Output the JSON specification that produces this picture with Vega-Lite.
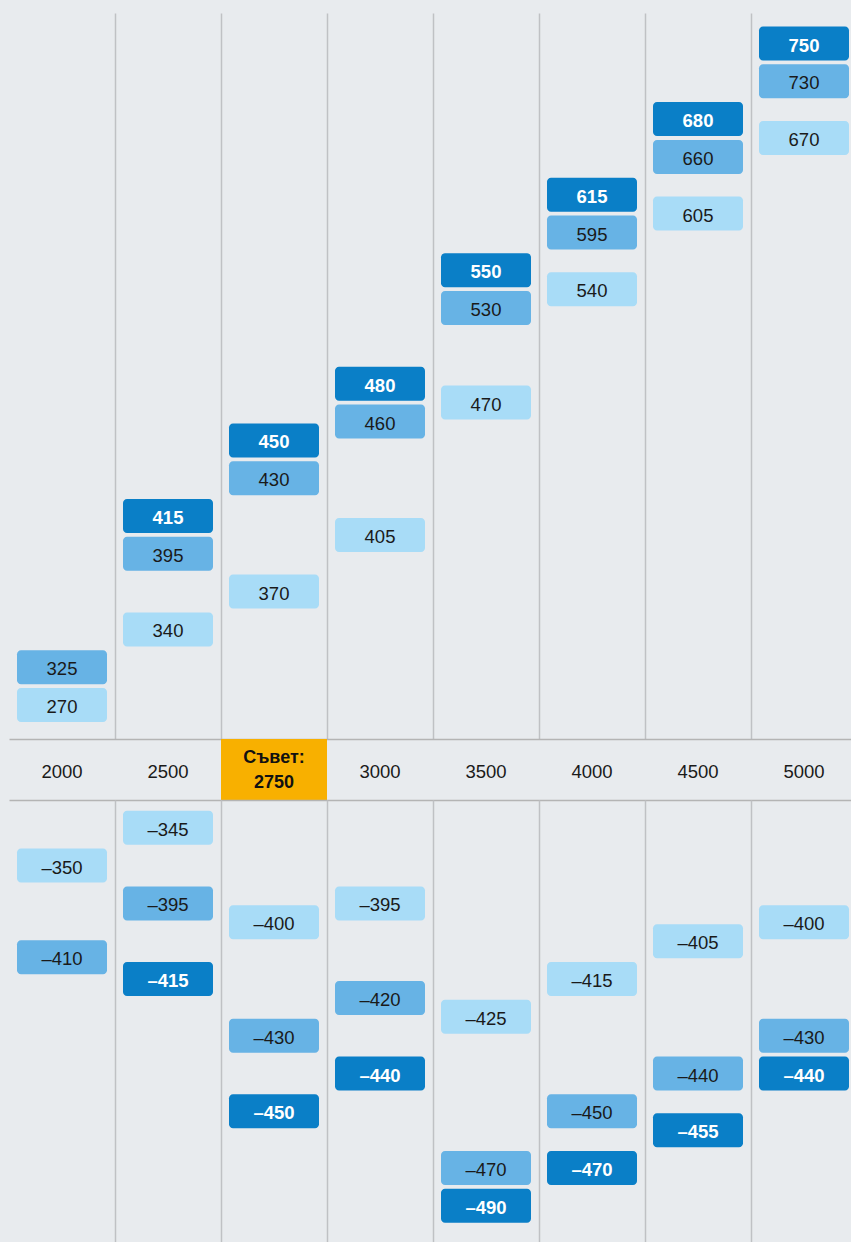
{
  "$schema": "https://vega.github.io/schema/vega-lite/v6.json",
  "background": "#e8ebee",
  "padding": {"top": 13, "left": 0, "right": 0, "bottom": 0},
  "bounds": "flush",
  "spacing": 0,
  "config": {
    "view": {"stroke": null},
    "font": "Liberation Sans",
    "locale": {"number": {"decimal": ".", "thousands": ",", "grouping": [3], "currency": ["$", ""], "minus": "–"}}
  },
  "datasets": {
    "boxes": [
      {"col": "2000", "series": "mid", "value": 325},
      {"col": "2000", "series": "low", "value": 270},
      {"col": "2500", "series": "high", "value": 415},
      {"col": "2500", "series": "mid", "value": 395},
      {"col": "2500", "series": "low", "value": 340},
      {"col": "2750", "series": "high", "value": 450},
      {"col": "2750", "series": "mid", "value": 430},
      {"col": "2750", "series": "low", "value": 370},
      {"col": "3000", "series": "high", "value": 480},
      {"col": "3000", "series": "mid", "value": 460},
      {"col": "3000", "series": "low", "value": 405},
      {"col": "3500", "series": "high", "value": 550},
      {"col": "3500", "series": "mid", "value": 530},
      {"col": "3500", "series": "low", "value": 470},
      {"col": "4000", "series": "high", "value": 615},
      {"col": "4000", "series": "mid", "value": 595},
      {"col": "4000", "series": "low", "value": 540},
      {"col": "4500", "series": "high", "value": 680},
      {"col": "4500", "series": "mid", "value": 660},
      {"col": "4500", "series": "low", "value": 605},
      {"col": "5000", "series": "high", "value": 750},
      {"col": "5000", "series": "mid", "value": 730},
      {"col": "5000", "series": "low", "value": 670},
      {"col": "2000", "series": "low", "value": -350},
      {"col": "2000", "series": "mid", "value": -410},
      {"col": "2500", "series": "low", "value": -345},
      {"col": "2500", "series": "mid", "value": -395},
      {"col": "2500", "series": "high", "value": -415},
      {"col": "2750", "series": "low", "value": -400},
      {"col": "2750", "series": "mid", "value": -430},
      {"col": "2750", "series": "high", "value": -450},
      {"col": "3000", "series": "low", "value": -395},
      {"col": "3000", "series": "mid", "value": -420},
      {"col": "3000", "series": "high", "value": -440},
      {"col": "3500", "series": "low", "value": -425},
      {"col": "3500", "series": "mid", "value": -470},
      {"col": "3500", "series": "high", "value": -490},
      {"col": "4000", "series": "low", "value": -415},
      {"col": "4000", "series": "mid", "value": -450},
      {"col": "4000", "series": "high", "value": -470},
      {"col": "4500", "series": "low", "value": -405},
      {"col": "4500", "series": "mid", "value": -440},
      {"col": "4500", "series": "high", "value": -455},
      {"col": "5000", "series": "low", "value": -400},
      {"col": "5000", "series": "mid", "value": -430},
      {"col": "5000", "series": "high", "value": -440}
    ],
    "middle": [
      {"col": "2000", "label": "2000"},
      {"col": "2500", "label": "2500"},
      {"col": "2750", "label": "Съвет:\n2750"},
      {"col": "3000", "label": "3000"},
      {"col": "3500", "label": "3500"},
      {"col": "4000", "label": "4000"},
      {"col": "4500", "label": "4500"},
      {"col": "5000", "label": "5000"}
    ]
  },
  "resolve": {"scale": {"x": "independent", "y": "independent"}},
  "vconcat": [
    {
      "width": 851,
      "height": 726,
      "data": {"name": "boxes"},
      "transform": [{"filter": "datum.value > 0"}],
      "encoding": {
        "x": {
          "field": "col", "type": "nominal",
          "scale": {"domain": ["2000", "2500", "2750", "3000", "3500", "4000", "4500", "5000"], "range": [9, 857], "paddingInner": 0, "paddingOuter": 0},
          "axis": {"orient": "bottom", "title": null, "labels": false, "ticks": false, "domain": true, "domainColor": "#b4b4b4", "domainWidth": 1.5, "grid": true, "gridColor": "#bfc1c4", "gridWidth": 1.5, "bandPosition": 0, "values": ["2500", "2750", "3000", "3500", "4000", "4500", "5000"]}
        },
        "y": {
          "field": "value", "type": "quantitative", "axis": null,
          "scale": {
            "zero": false, "nice": false,
            "domain": [220, 270, 325, 340, 370, 395, 405, 415, 430, 450, 460, 470, 480, 530, 540, 550, 595, 605, 615, 660, 670, 680, 730, 750, 766],
            "range": [726, 692, 654.2, 616.4, 578.6, 540.8, 521.9, 503, 465.2, 427.4, 408.5, 389.6, 370.7, 295.1, 276.2, 257.3, 219.5, 200.6, 181.7, 143.9, 125, 106.1, 68.3, 30.5, 0]
          }
        }
      },
      "layer": [
        {
          "mark": {"type": "rect", "width": 90, "yOffset": -17, "y2Offset": 17, "cornerRadius": 4},
          "encoding": {
            "y2": {"field": "value"},
            "color": {"field": "series", "type": "nominal", "legend": null, "scale": {"domain": ["high", "mid", "low"], "range": ["#0a7fc7", "#67b3e5", "#a8dcf7"]}}
          }
        },
        {
          "transform": [{"filter": "datum.series === 'high'"}],
          "mark": {"type": "text", "fontSize": 18.5, "fontWeight": "bold", "color": "#ffffff", "baseline": "middle", "dy": 2},
          "encoding": {"text": {"field": "value", "type": "quantitative", "format": "d"}}
        },
        {
          "transform": [{"filter": "datum.series !== 'high'"}],
          "mark": {"type": "text", "fontSize": 18.5, "color": "#1a1a1a", "baseline": "middle", "dy": 2},
          "encoding": {"text": {"field": "value", "type": "quantitative", "format": "d"}}
        }
      ]
    },
    {
      "width": 851,
      "height": 61,
      "data": {"name": "middle"},
      "encoding": {
        "x": {
          "field": "col", "type": "nominal",
          "scale": {"domain": ["2000", "2500", "2750", "3000", "3500", "4000", "4500", "5000"], "range": [9, 857], "paddingInner": 0, "paddingOuter": 0},
          "axis": {"orient": "bottom", "title": null, "labels": false, "ticks": false, "grid": false, "domain": true, "domainColor": "#b4b4b4", "domainWidth": 1.5}
        }
      },
      "layer": [
        {
          "transform": [{"filter": "datum.col === '2750'"}],
          "mark": {"type": "rect", "color": "#f8b000"}
        },
        {
          "transform": [{"filter": "datum.col !== '2750'"}],
          "mark": {"type": "text", "fontSize": 18.5, "color": "#1a1a1a", "baseline": "middle", "dy": 2},
          "encoding": {"text": {"field": "label", "type": "nominal"}}
        },
        {
          "transform": [{"filter": "datum.col === '2750'"}],
          "mark": {"type": "text", "fontSize": 18, "fontWeight": "bold", "color": "#111111", "baseline": "middle", "lineBreak": "\n", "lineHeight": 25, "dy": -12},
          "encoding": {"text": {"field": "label", "type": "nominal"}}
        }
      ]
    },
    {
      "width": 851,
      "height": 442,
      "data": {"name": "boxes"},
      "transform": [{"filter": "datum.value < 0"}],
      "encoding": {
        "x": {
          "field": "col", "type": "nominal",
          "scale": {"domain": ["2000", "2500", "2750", "3000", "3500", "4000", "4500", "5000"], "range": [9, 857], "paddingInner": 0, "paddingOuter": 0},
          "axis": {"orient": "bottom", "title": null, "labels": false, "ticks": false, "domain": false, "grid": true, "gridColor": "#bfc1c4", "gridWidth": 1.5, "bandPosition": 0, "values": ["2500", "2750", "3000", "3500", "4000", "4500", "5000"]}
        },
        "y": {
          "field": "value", "type": "quantitative", "axis": null,
          "scale": {
            "zero": false, "nice": false,
            "domain": [-500, -490, -470, -455, -450, -440, -430, -425, -420, -415, -410, -405, -400, -395, -350, -345, -340],
            "range": [442, 405.8, 368, 330.2, 311.3, 273.5, 235.7, 216.8, 197.9, 179, 157.2, 141.2, 122.3, 103.4, 65.6, 27.8, 0]
          }
        }
      },
      "layer": [
        {
          "mark": {"type": "rect", "width": 90, "yOffset": -17, "y2Offset": 17, "cornerRadius": 4},
          "encoding": {
            "y2": {"field": "value"},
            "color": {"field": "series", "type": "nominal", "legend": null, "scale": {"domain": ["high", "mid", "low"], "range": ["#0a7fc7", "#67b3e5", "#a8dcf7"]}}
          }
        },
        {
          "transform": [{"filter": "datum.series === 'high'"}],
          "mark": {"type": "text", "fontSize": 18.5, "fontWeight": "bold", "color": "#ffffff", "baseline": "middle", "dy": 2},
          "encoding": {"text": {"field": "value", "type": "quantitative", "format": "d"}}
        },
        {
          "transform": [{"filter": "datum.series !== 'high'"}],
          "mark": {"type": "text", "fontSize": 18.5, "color": "#1a1a1a", "baseline": "middle", "dy": 2},
          "encoding": {"text": {"field": "value", "type": "quantitative", "format": "d"}}
        }
      ]
    }
  ]
}
